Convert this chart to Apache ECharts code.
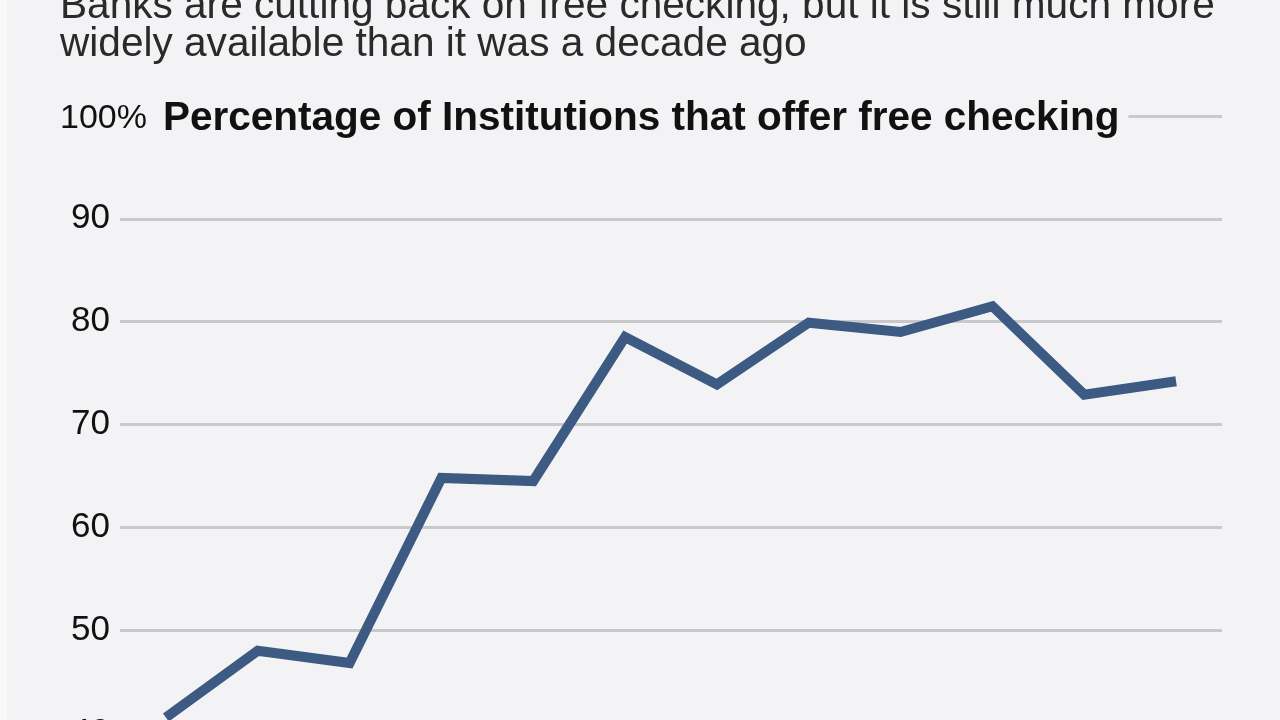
<!DOCTYPE html>
<html>
<head>
<meta charset="utf-8">
<script src="https://cdn.jsdelivr.net/npm/echarts@6/dist/echarts.min.js"></script>
<style>
html,body{margin:0;padding:0;background:#f3f3f5;overflow:hidden;}
#chart{width:1280px;height:760px;}
</style>
</head>
<body>
<div id="chart"></div>
<script>
const categories = ['1999','2000','2001','2002','2003','2004','2005','2006','2007','2008','2009','2010'];
const freeCheckingPct = [41.5, 48.0, 46.8, 64.8, 64.5, 78.5, 73.9, 79.9, 79.0, 81.5, 72.9, 74.2];
const yTicks = [40, 50, 60, 70, 80, 90, 100];
const subtitleLines = [
  'Banks are cutting back on free checking, but it is still much more',
  'widely available than it was a decade ago'
];
const unitLabel = '100%';
const chartTitle = 'Percentage of Institutions that offer free checking';

const FONT = '"Liberation Sans", Arial, Helvetica, sans-serif';
const BG = '#f3f3f5';

const chart = echarts.init(document.getElementById('chart'));
chart.setOption({
  backgroundColor: BG,
  animation: false,
  title: {
    text: '{a|' + unitLabel + '}{b|' + chartTitle + '}',
    left: 58,
    top: 97,
    padding: [0, 9, 0, 2],
    backgroundColor: BG,
    textStyle: {
      rich: {
        a: { fontFamily: FONT, fontSize: 34, color: '#111', fontWeight: 'normal', lineHeight: 44, padding: [0, 16, 0, 0] },
        b: { fontFamily: FONT, fontSize: 40.5, color: '#111', fontWeight: 'bold', lineHeight: 44 }
      }
    }
  },
  graphic: [
    { type: 'rect', left: 0, top: 0, shape: { width: 7, height: 760 }, style: { fill: '#f8f8f9' }, silent: true },
    { type: 'text', x: 60, y: 7, style: { text: subtitleLines[0], font: '40.6px ' + FONT, fill: '#2a2a2a', verticalAlign: 'middle', align: 'left' } },
    { type: 'text', x: 60, y: 45, style: { text: subtitleLines[1], font: '40.6px ' + FONT, fill: '#2a2a2a', verticalAlign: 'middle', align: 'left' } }
  ],
  grid: { left: 120, right: 58, top: 116, bottom: 27, containLabel: false },
  xAxis: {
    type: 'category',
    data: categories,
    boundaryGap: true,
    axisLine: { show: false },
    axisTick: { show: false },
    axisLabel: { show: false },
    splitLine: { show: false }
  },
  yAxis: {
    type: 'value',
    min: yTicks[0],
    max: yTicks[yTicks.length - 1],
    interval: 10,
    axisLine: { show: false },
    axisTick: { show: false },
    axisLabel: {
      margin: 10,
      fontFamily: FONT,
      fontSize: 35,
      color: '#111',
      formatter: function (v) { return v === 100 ? '' : String(v); }
    },
    splitLine: { lineStyle: { color: '#c9c9c9', width: 3 } }
  },
  series: [{
    type: 'line',
    data: freeCheckingPct,
    symbol: 'none',
    lineStyle: { color: '#3c5a82', width: 10, join: 'miter', cap: 'butt' }
  }]
});
</script>
</body>
</html>
